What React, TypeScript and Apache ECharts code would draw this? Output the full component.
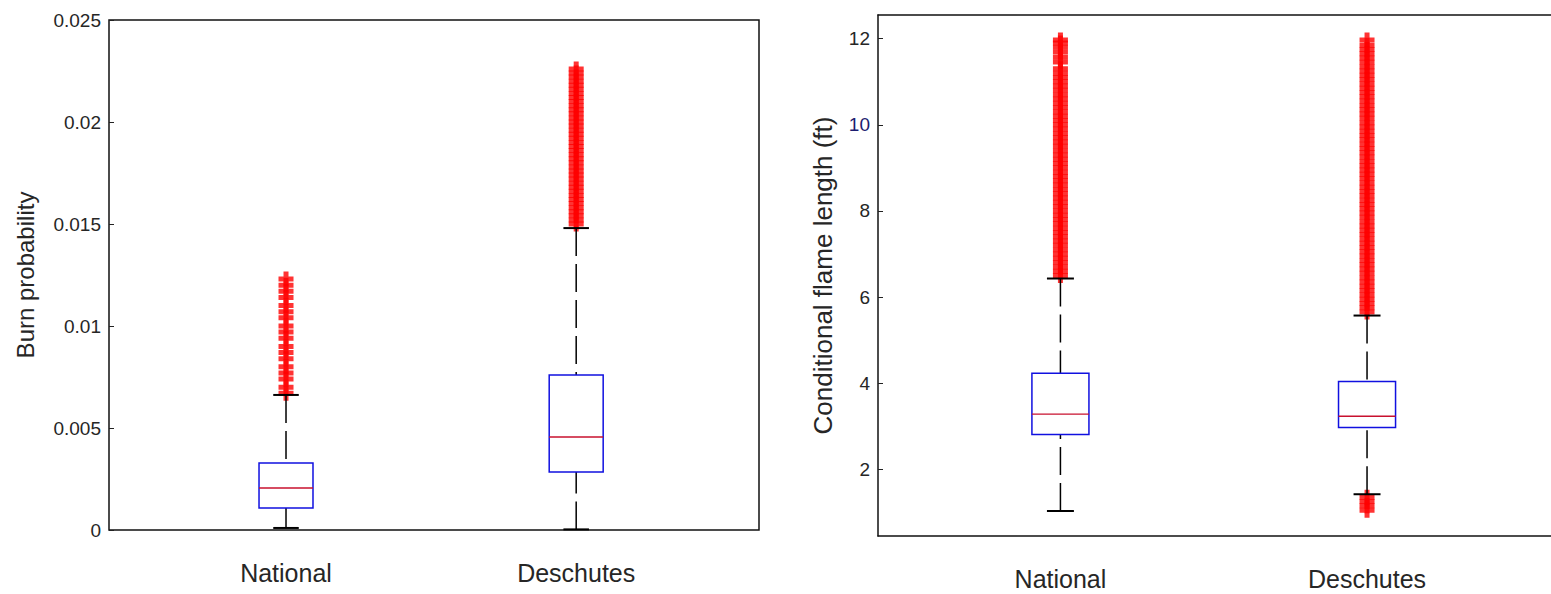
import React, { useEffect, useRef } from "react";
import * as echarts from "echarts";

const categories = ["National", "Deschutes"];

// box statistics: [lower whisker, Q1, median, Q3, upper whisker]
const burnNational = [0.0001, 0.00108, 0.00206, 0.00328, 0.00662];
const burnDeschutes = [0.00003, 0.00284, 0.00456, 0.0076, 0.0148];
const flameNational = [1.03, 2.81, 3.28, 4.23, 6.43];
const flameDeschutes = [1.42, 2.97, 3.23, 4.04, 5.57];

// outliers ("+" markers)
const burnNationalOutliers = [
  0.0067, 0.007, 0.0074, 0.0077, 0.008, 0.0084, 0.0087, 0.009, 0.0094, 0.0097,
  0.01, 0.0104, 0.0107, 0.011, 0.0114, 0.0117, 0.012, 0.0123,
];
const burnDeschutesOutliers = [
  0.015, 0.0152, 0.0154, 0.0156, 0.0158, 0.016, 0.0162, 0.0164, 0.0166, 0.0168,
  0.017, 0.0172, 0.0174, 0.0176, 0.0178, 0.018, 0.0182, 0.0184, 0.0186, 0.0188,
  0.019, 0.0192, 0.0194, 0.0196, 0.0198, 0.02, 0.0202, 0.0204, 0.0206, 0.0208,
  0.021, 0.0212, 0.0214, 0.0216, 0.0218, 0.022, 0.0222, 0.0224, 0.0226,
];
const flameNationalOutliers = [
  6.5, 6.6, 6.7, 6.8, 6.9, 7.0, 7.1, 7.2, 7.3, 7.4, 7.5, 7.6, 7.7, 7.8, 7.9,
  8.0, 8.1, 8.2, 8.3, 8.4, 8.5, 8.6, 8.7, 8.8, 8.9, 9.0, 9.1, 9.2, 9.3, 9.4,
  9.5, 9.6, 9.7, 9.8, 9.9, 10.0, 10.1, 10.2, 10.3, 10.4, 10.5, 10.6, 10.7,
  10.8, 10.9, 11.0, 11.1, 11.2, 11.3, 11.46, 11.57, 11.69, 11.8, 11.9, 11.97,
];
const flameDeschutesOutliers = [
  5.65, 5.75, 5.85, 5.95, 6.05, 6.15, 6.25, 6.35, 6.45, 6.55, 6.65, 6.75, 6.85,
  6.95, 7.05, 7.15, 7.25, 7.35, 7.45, 7.55, 7.65, 7.75, 7.85, 7.95, 8.05, 8.15,
  8.25, 8.35, 8.45, 8.55, 8.65, 8.75, 8.85, 8.95, 9.05, 9.15, 9.25, 9.35, 9.45,
  9.55, 9.65, 9.75, 9.85, 9.95, 10.05, 10.15, 10.25, 10.35, 10.45, 10.55, 10.65,
  10.75, 10.85, 10.95, 11.05, 11.15, 11.25, 11.35, 11.45, 11.55, 11.65, 11.75,
  11.85, 11.97,
];
const flameDeschutesLowOutliers = [1.05, 1.15, 1.25, 1.35];

const burnTicks = [0, 0.005, 0.01, 0.015, 0.02, 0.025];
const flameTicks = [2, 4, 6, 8, 10, 12];
const categoryPositions = [1, 2];

const FONT = "'Liberation Sans', Arial, sans-serif";
const TEXT = "#262626";
const PLUS =
  "path://M5,0 L10,0 L10,5 L15,5 L15,10 L10,10 L10,15 L5,15 L5,10 L0,10 L0,5 L5,5 Z";

const BOX_HALF = 0.093;
const CAP_HALF = 0.044;

function renderBox(params: any, api: any) {
  const x = api.value(0);
  const lo = api.value(1);
  const q1 = api.value(2);
  const med = api.value(3);
  const q3 = api.value(4);
  const hi = api.value(5);
  const tl = api.coord([x - BOX_HALF, q3]);
  const br = api.coord([x + BOX_HALF, q1]);
  const pm = api.coord([x, med]);
  const pHi = api.coord([x, hi]);
  const pLo = api.coord([x, lo]);
  const pQ3 = api.coord([x, q3]);
  const pQ1 = api.coord([x, q1]);
  const capL = api.coord([x - CAP_HALF, hi])[0];
  const capR = api.coord([x + CAP_HALF, hi])[0];
  const whisker = { stroke: "#000", lineWidth: 1.5, lineDash: [28, 8] };
  return {
    type: "group",
    children: [
      { type: "line", shape: { x1: pHi[0], y1: pHi[1], x2: pQ3[0], y2: pQ3[1] }, style: whisker },
      { type: "line", shape: { x1: pLo[0], y1: pLo[1], x2: pQ1[0], y2: pQ1[1] }, style: whisker },
      { type: "line", shape: { x1: capL, y1: pHi[1], x2: capR, y2: pHi[1] }, style: { stroke: "#000", lineWidth: 2 } },
      { type: "line", shape: { x1: capL, y1: pLo[1], x2: capR, y2: pLo[1] }, style: { stroke: "#000", lineWidth: 2 } },
      {
        type: "rect",
        shape: { x: tl[0], y: tl[1], width: br[0] - tl[0], height: br[1] - tl[1] },
        style: { fill: "none", stroke: "#1010e0", lineWidth: 1.5 },
      },
      { type: "line", shape: { x1: tl[0], y1: pm[1], x2: br[0], y2: pm[1] }, style: { stroke: "#c8102e", lineWidth: 1.4 } },
    ],
  };
}

function outlierSeries(idx: number, pos: number, values: number[]) {
  return {
    type: "scatter",
    xAxisIndex: idx,
    yAxisIndex: idx,
    symbol: PLUS,
    symbolSize: 15,
    itemStyle: { color: "#ff0000" },
    data: values.map((v) => [pos, v]),
    silent: true,
    z: 2,
  };
}

export default function App() {
  const ref = useRef<HTMLDivElement>(null);
  useEffect(() => {
    if (!ref.current) return;
    const chart = echarts.init(ref.current, undefined, { renderer: "svg" });
    const frameLine = { show: true, lineStyle: { color: "#111", width: 1.5 } };
    const xAxisBase = (idx: number, min: number, max: number, line: boolean) => ({
      type: "value",
      gridIndex: idx,
      min,
      max,
      splitLine: { show: false },
      axisLine: line ? frameLine : { show: false },
      axisTick: { show: false },
      axisLabel: {
        customValues: categoryPositions,
        formatter: (v: number) => categories[Math.round(v) - 1] ?? "",
        fontSize: 25,
        fontFamily: FONT,
        color: TEXT,
        margin: 30,
      },
    });
    const option: any = {
      animation: false,
      backgroundColor: "#fff",
      grid: [
        { left: 109, top: 20, width: 650, height: 510, show: true, borderColor: "#111", borderWidth: 1.5, backgroundColor: "transparent" },
        { left: 878, top: 15, width: 683, height: 521, show: false },
      ],
      xAxis: [
        xAxisBase(0, 0.39, 2.63, false),
        xAxisBase(1, 0.405, 2.6, true),
        {
          type: "value",
          gridIndex: 1,
          position: "top",
          min: 0.405,
          max: 2.6,
          splitLine: { show: false },
          axisLine: frameLine,
          axisTick: { show: false },
          axisLabel: { show: false },
        },
      ],
      yAxis: [
        {
          type: "value",
          gridIndex: 0,
          min: 0,
          max: 0.025,
          name: "Burn probability",
          nameLocation: "middle",
          nameGap: 72,
          nameTextStyle: { fontSize: 24, fontFamily: FONT, color: TEXT },
          splitLine: { show: false },
          axisLine: { show: false },
          axisTick: { show: true, inside: true, length: 5, customValues: burnTicks, lineStyle: { color: "#222" } },
          axisLabel: {
            customValues: burnTicks,
            formatter: (v: number) => String(v),
            fontSize: 19,
            fontFamily: FONT,
            color: TEXT,
            margin: 8,
          },
        },
        {
          type: "value",
          gridIndex: 1,
          min: 0.45,
          max: 12.55,
          name: "Conditional flame length (ft)",
          nameLocation: "middle",
          nameGap: 42,
          nameTextStyle: { fontSize: 26, fontFamily: FONT, color: TEXT },
          splitLine: { show: false },
          axisLine: frameLine,
          axisTick: { show: true, inside: true, length: 5, customValues: flameTicks, lineStyle: { color: "#222" } },
          axisLabel: {
            customValues: flameTicks,
            formatter: (v: number) => String(v),
            fontSize: 19,
            fontFamily: FONT,
            color: (v: any) => (Number(v) === 10 ? "#1c1c70" : TEXT),
            margin: 8,
          },
        },
      ],
      series: [
        outlierSeries(0, 1, burnNationalOutliers),
        outlierSeries(0, 2, burnDeschutesOutliers),
        outlierSeries(1, 1, flameNationalOutliers),
        outlierSeries(1, 2, flameDeschutesOutliers),
        outlierSeries(1, 2, flameDeschutesLowOutliers),
        {
          type: "custom",
          xAxisIndex: 0,
          yAxisIndex: 0,
          renderItem: renderBox,
          encode: { x: 0, y: [1, 2, 3, 4, 5] },
          data: [
            [categoryPositions[0], ...burnNational],
            [categoryPositions[1], ...burnDeschutes],
          ],
          z: 3,
          silent: true,
        },
        {
          type: "custom",
          xAxisIndex: 1,
          yAxisIndex: 1,
          renderItem: renderBox,
          encode: { x: 0, y: [1, 2, 3, 4, 5] },
          data: [
            [categoryPositions[0], ...flameNational],
            [categoryPositions[1], ...flameDeschutes],
          ],
          z: 3,
          silent: true,
        },
      ],
    };
    chart.setOption(option);
    return () => chart.dispose();
  }, []);
  return (
    <div
      ref={ref}
      style={{ position: "absolute", left: 0, top: 0, width: 1551, height: 594, background: "#fff" }}
    />
  );
}
